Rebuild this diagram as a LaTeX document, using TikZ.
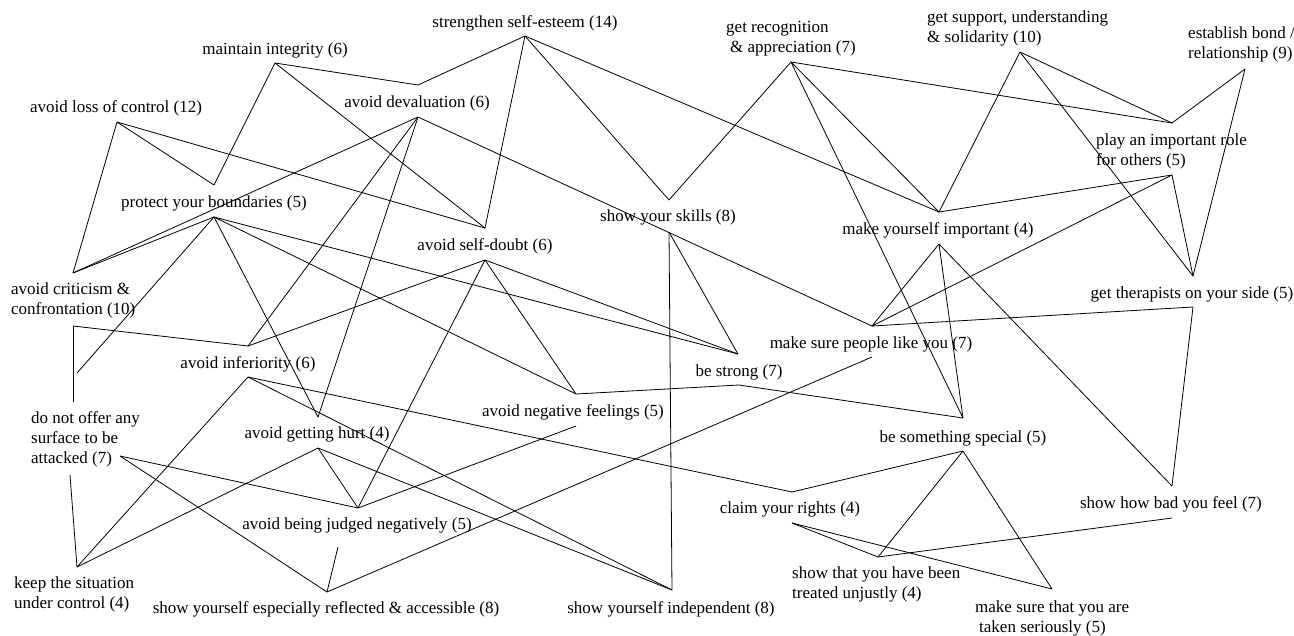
\documentclass[tikz,border=0pt]{standalone}
\usepackage{fontspec}
\setmainfont{Liberation Serif}
\begin{document}
\begin{tikzpicture}[x=1pt,y=-1pt,
  lbl/.style={inner sep=0pt, anchor=base, font=\fontsize{17}{20}\selectfont},
  mlbl/.style={inner sep=0pt, anchor=base west, font=\fontsize{17}{20}\selectfont},
  link/.style={line width=0.8pt, draw=black}]
\useasboundingbox (0,0) rectangle (1294,635);
% labels
\node[lbl] (se) at (525,27) {strengthen self-esteem (14)};
\node[lbl] (mi) at (275,54) {maintain integrity (6)};
\node[lbl] (lc) at (116,112) {avoid loss of control (12)};
\node[lbl] (ad) at (417,107) {avoid devaluation (6)};
\node[lbl] (pb) at (214,207) {protect your boundaries (5)};
\node[lbl] (sk) at (668,221) {show your skills (8)};
\node[lbl] (mk) at (938,234) {make yourself important (4)};
\node[lbl] (sd) at (485,250) {avoid self-doubt (6)};
\node[lbl] (gt) at (1192,298) {get therapists on your side (5)};
\node[lbl] (ml) at (871,348) {make sure people like you (7)};
\node[lbl] (bst) at (739,376) {be strong (7)};
\node[lbl] (ai) at (248,368) {avoid inferiority (6)};
\node[lbl] (nf) at (573,416) {avoid negative feelings (5)};
\node[lbl] (gh) at (317,438) {avoid getting hurt (4)};
\node[lbl] (bs) at (963,442) {be something special (5)};
\node[lbl] (bj) at (357,529) {avoid being judged negatively (5)};
\node[lbl] (cr) at (790,513) {claim your rights (4)};
\node[lbl] (hb) at (1171,508) {show how bad you feel (7)};
\node[lbl] (sr) at (326,613) {show yourself especially reflected \& accessible (8)};
\node[lbl] (si) at (671,613) {show yourself independent (8)};
\node[mlbl] (gr) at (726,32) {\begin{tabular}[t]{@{}l@{}}get recognition\\\hspace{4pt}\& appreciation (7)\end{tabular}};
\node[mlbl] (gs) at (927,22) {\begin{tabular}[t]{@{}l@{}}get support, understanding\\\& solidarity (10)\end{tabular}};
\node[mlbl] (eb) at (1188,38) {\begin{tabular}[t]{@{}l@{}}establish bond /\\relationship (9)\end{tabular}};
\node[mlbl] (pr) at (1096,145) {\begin{tabular}[t]{@{}l@{}}play an important role\\for others (5)\end{tabular}};
\node[mlbl] (ac) at (11,294) {\begin{tabular}[t]{@{}l@{}}avoid criticism \&\\confrontation (10)\end{tabular}};
\node[mlbl] (dn) at (31,423) {\begin{tabular}[t]{@{}l@{}}do not offer any\\surface to be\\attacked (7)\end{tabular}};
\node[mlbl] (ks) at (14,588) {\begin{tabular}[t]{@{}l@{}}keep the situation\\under control (4)\end{tabular}};
\node[mlbl] (su) at (792,578) {\begin{tabular}[t]{@{}l@{}}show that you have been\\treated unjustly (4)\end{tabular}};
\node[mlbl] (ms) at (975,612) {\begin{tabular}[t]{@{}l@{}}make sure that you are\\\hspace{4pt}taken seriously (5)\end{tabular}};
% anchor points
\coordinate (se-b) at (525,36);
\coordinate (mi-b) at (275,63);
\coordinate (gr-b) at (791,62);
\coordinate (gs-b) at (1020,52);
\coordinate (eb-b) at (1245,69);
\coordinate (lc-b) at (117,122);
\coordinate (ad-t) at (418,85);   \coordinate (ad-b) at (418,117);
\coordinate (pr-t) at (1172,123); \coordinate (pr-b) at (1172,175);
\coordinate (pb-t) at (214,185);  \coordinate (pb-b) at (214,217);
\coordinate (sk-t) at (669,200);  \coordinate (sk-b) at (669,232);
\coordinate (mk-t) at (939,212);  \coordinate (mk-b) at (939,244);
\coordinate (sd-t) at (485,228);  \coordinate (sd-b) at (485,260);
\coordinate (ac-t) at (73,273);   \coordinate (ac-b) at (73,326);
\coordinate (gt-t) at (1193,276); \coordinate (gt-b) at (1193,307);
\coordinate (ml-t) at (872,326);  \coordinate (ml-b) at (872,357);
\coordinate (bst-t) at (738,354); \coordinate (bst-b) at (739,385);
\coordinate (ai-t) at (248,346);  \coordinate (ai-b) at (248,377);
\coordinate (nf-t) at (576,394);  \coordinate (nf-b) at (576,426);
\coordinate (dn-t) at (73,402);   \coordinate (dn-b) at (70,475); \coordinate (dn-r) at (120,456);
\coordinate (pb-x) at (77,373);
\coordinate (gh-t) at (318,417);  \coordinate (gh-b) at (318,448);
\coordinate (bs-t) at (963,418);  \coordinate (bs-b) at (963,451);
\coordinate (bj-t) at (358,508);  \coordinate (bj-b) at (338,547);
\coordinate (cr-t) at (792,492);  \coordinate (cr-b) at (792,523);
\coordinate (hb-t) at (1172,486); \coordinate (hb-b) at (1172,518);
\coordinate (ks-t) at (77,567);
\coordinate (sr-t) at (327,592);
\coordinate (si-t) at (672,590);
\coordinate (su-t) at (878,557);
\coordinate (ms-t) at (1052,589);
% connectors
\draw[link] (mi-b) -- (ad-t);
\draw[link] (se-b) -- (ad-t);
\draw[link] (mi-b) -- (pb-t);
\draw[link] (mi-b) -- (sd-t);
\draw[link] (lc-b) -- (ac-t);
\draw[link] (lc-b) -- (pb-t);
\draw[link] (lc-b) -- (sd-t);
\draw[link] (se-b) -- (sd-t);
\draw[link] (se-b) -- (sk-t);
\draw[link] (se-b) -- (mk-t);
\draw[link] (gr-b) -- (sk-t);
\draw[link] (gr-b) -- (pr-t);
\draw[link] (gr-b) -- (mk-t);
\draw[link] (gr-b) -- (bs-t);
\draw[link] (gs-b) -- (pr-t);
\draw[link] (gs-b) -- (mk-t);
\draw[link] (gs-b) -- (gt-t);
\draw[link] (eb-b) -- (pr-t);
\draw[link] (eb-b) -- (gt-t);
\draw[link] (pr-b) -- (mk-t);
\draw[link] (pr-b) -- (ml-t);
\draw[link] (pr-b) -- (gt-t);
\draw[link] (mk-b) -- (ml-t);
\draw[link] (mk-b) -- (bs-t);
\draw[link] (mk-b) -- (hb-t);
\draw[link] (gt-b) -- (ml-t);
\draw[link] (gt-b) -- (hb-t);
\draw[link] (ad-b) -- (ac-t);
\draw[link] (ad-b) -- (ai-t);
\draw[link] (ad-b) -- (gh-t);
\draw[link] (ad-b) -- (ml-t);
\draw[link] (pb-b) -- (ac-t);
\draw[link] (pb-b) -- (pb-x);
\draw[link] (pb-b) -- (gh-t);
\draw[link] (pb-b) -- (bst-t);
\draw[link] (pb-b) -- (nf-t);
\draw[link] (sd-b) -- (ai-t);
\draw[link] (sd-b) -- (bst-t);
\draw[link] (sd-b) -- (nf-t);
\draw[link] (sd-b) -- (bj-t);
\draw[link] (sk-b) -- (bst-t);
\draw[link] (sk-b) -- (si-t);
\draw[link] (ac-b) -- (ai-t);
\draw[link] (ac-b) -- (dn-t);
\draw[link] (ai-b) -- (ks-t);
\draw[link] (ai-b) -- (cr-t);
\draw[link] (ai-b) -- (si-t);
\draw[link] (bst-b) -- (nf-t);
\draw[link] (bst-b) -- (bs-t);
\draw[link] (nf-b) -- (bj-t);
\draw[link] (gh-b) -- (ks-t);
\draw[link] (gh-b) -- (bj-t);
\draw[link] (gh-b) -- (si-t);
\draw[link] (dn-b) -- (ks-t);
\draw[link] (dn-r) -- (bj-t);
\draw[link] (dn-r) -- (sr-t);
\draw[link] (bj-b) -- (sr-t);
\draw[link] (ml-b) -- (sr-t);
\draw[link] (bs-b) -- (cr-t);
\draw[link] (bs-b) -- (su-t);
\draw[link] (bs-b) -- (ms-t);
\draw[link] (cr-b) -- (su-t);
\draw[link] (cr-b) -- (ms-t);
\draw[link] (hb-b) -- (su-t);
\end{tikzpicture}
\end{document}
